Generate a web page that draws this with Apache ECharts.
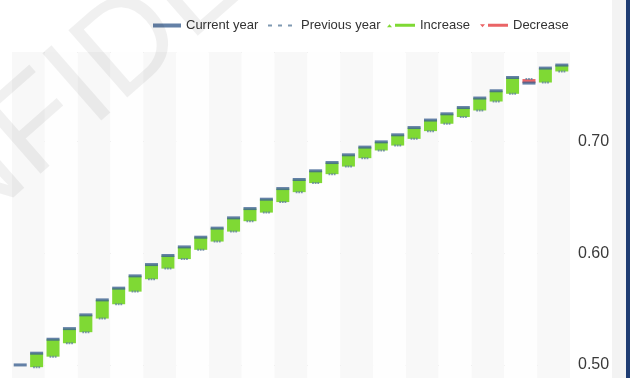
<!DOCTYPE html>
<html><head><meta charset="utf-8">
<script src="https://cdn.jsdelivr.net/npm/echarts@6/dist/echarts.min.js"></script>
<style>html,body{margin:0;padding:0;background:#fff;overflow:hidden}#c{width:630px;height:378px}</style>
</head><body><div id="c"></div>
<script>
const categories = ['P1','P2','P3','P4','P5','P6','P7','P8','P9','P10','P11','P12','P13','P14','P15','P16','P17','P18','P19','P20','P21','P22','P23','P24','P25','P26','P27','P28','P29','P30','P31','P32','P33','P34'];
const currentYear = [0.5000,0.5105,0.5230,0.5325,0.5448,0.5582,0.5687,0.5797,0.5898,0.5979,0.6056,0.6143,0.6224,0.6316,0.6399,0.6483,0.6578,0.6659,0.6737,0.6811,0.6880,0.6949,0.6996,0.7059,0.7124,0.7191,0.7247,0.7303,0.7388,0.7453,0.7572,0.7522,0.7656,0.7683];
const previousYear = [null,0.4980,0.5074,0.5194,0.5293,0.5415,0.5543,0.5656,0.5767,0.5862,0.5947,0.6030,0.6104,0.6193,0.6286,0.6363,0.6457,0.6546,0.6627,0.6707,0.6775,0.6850,0.6919,0.6963,0.7023,0.7092,0.7158,0.7218,0.7277,0.7357,0.7426,0.7558,0.7527,0.7626];
const yTickLabels = ['0.50','0.60','0.70'];

const base = [], inc = [], dec = [];
for (let i = 0; i < categories.length; i++) {
  const c = currentYear[i], p = previousYear[i];
  if (p == null) { base.push(null); inc.push(null); dec.push(null); continue; }
  base.push(Math.min(c, p));
  inc.push(c > p ? +(c - p).toFixed(5) : null);
  dec.push(p > c ? +(p - c).toFixed(5) : null);
}

const GREEN = '#7fd934', RED = '#ea6466', BLUE = '#3d6191';
const chart = echarts.init(document.getElementById('c'), null, {renderer: 'canvas'});
const legendText = {fontSize: 13, color: '#333', fontFamily: 'Liberation Sans, Arial, sans-serif'};
function lg(name, icon, left) {
  return {data: [{name: name, icon: icon}], left: left, top: 19, padding: 0, itemWidth: 28, itemHeight: 4, itemGap: 0, textStyle: legendText, selectedMode: false};
}
chart.setOption({
  animation: false,
  graphic: [
    {type: 'text', x: 150, y: 30, rotation: 0.72, z: 100, silent: true,
     style: {text: 'CONFIDENTIAL', font: '130px "Liberation Sans", Arial', fill: 'rgba(0,0,0,0.06)', align: 'center', verticalAlign: 'middle'}},
    {type: 'rect', shape: {x: 612, y: 0, width: 14, height: 378}, style: {fill: '#f3f3f3'}, z: -5, silent: true},
    {type: 'rect', shape: {x: 626, y: 0, width: 4, height: 378}, style: {fill: '#1f3c72'}, z: 10, silent: true}
  ],
  legend: [
    lg('Current year', 'path://M0,0H28V4H0Z', 153),
    lg('Previous year', 'path://M0,1H4V3H0Z M10,1H14V3H10Z M20,1H24V3H20Z M28,1V1Z', 268),
    lg('Increase', 'path://M0,4L2.5,1L5,4Z M8,0.5H28V3.5H8Z', 387),
    lg('Decrease', 'path://M0,1L2.5,4L5,1Z M8,0.5H28V3.5H8Z', 480)
  ],
  grid: {left: 12, right: 60, top: 52, height: 424.7, containLabel: false, outerBoundsMode: 'none'},
  xAxis: {
    type: 'category', data: categories, boundaryGap: true,
    axisLine: {show: false}, axisTick: {show: false}, axisLabel: {show: false},
    splitArea: {show: true, areaStyle: {color: ['#f8f8f8', '#fefefe']}},
    splitLine: {show: false}
  },
  yAxis: {
    type: 'value', position: 'right', min: 0.4, max: 0.78, interval: 0.1,
    axisLine: {show: false}, axisTick: {show: false},
    splitLine: {lineStyle: {color: '#cfcfcf', width: 1}},
    axisLabel: {margin: 8, fontSize: 16, color: '#3a3a3a', fontFamily: 'Liberation Sans, Arial, sans-serif',
      formatter: function (v) { const s = v.toFixed(2); return yTickLabels.indexOf(s) >= 0 ? s : ''; }}
  },
  series: [
    {name: 'base', type: 'bar', stack: 'w', data: base, barWidth: 13, itemStyle: {color: 'rgba(0,0,0,0)'}, silent: true},
    {name: 'Increase', type: 'bar', stack: 'w', data: inc, barWidth: 13, itemStyle: {color: GREEN}},
    {name: 'Decrease', type: 'bar', stack: 'w', data: dec, barWidth: 13, itemStyle: {color: RED}},
    {name: 'Previous year', type: 'scatter', data: previousYear, symbol: 'path://M0,0H2V2H0Z M3,0H5V2H3Z M6,0H8V2H6Z', symbolSize: [7, 2], itemStyle: {color: '#5f7f9f'}, z: 5},
    {name: 'Current year', type: 'scatter', data: currentYear, symbol: 'rect', symbolSize: [13, 3], itemStyle: {color: BLUE}, z: 6}
  ]
});
</script>
</body></html>
